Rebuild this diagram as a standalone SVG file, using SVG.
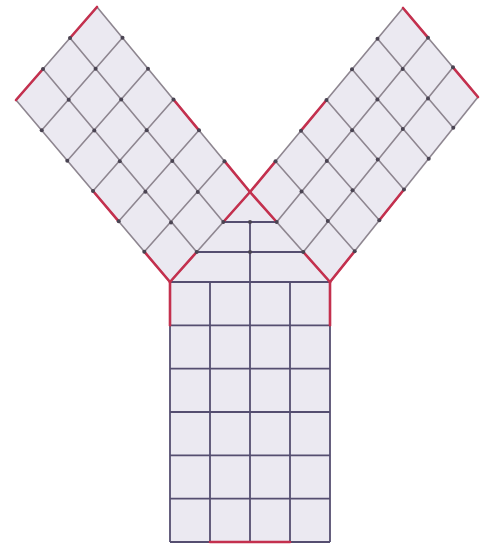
<svg xmlns="http://www.w3.org/2000/svg" width="480" height="546" viewBox="0 0 480 546">
<style>
.fill{fill:#ebe9f1;stroke:none}
.arm{stroke:#8e8690;stroke-width:1.6;fill:none;stroke-linecap:round}
.stem{stroke:#554e70;stroke-width:1.8;fill:none}
.red{stroke:#c4304e;stroke-width:2.6;fill:none;stroke-linecap:round}
.dot{fill:#4a4452}
</style>
<rect width="480" height="546" fill="#ffffff"/>
<g id="surfaces">
<polygon class="fill" points="97,7 250,192 170,282 16,100"/>
<polygon class="fill" points="403,8 478,97 330,282 250,192"/>
<polygon class="fill" points="250,192 330,282 170,282"/>
<rect class="fill" x="170" y="282" width="160" height="260"/>
</g>
<g id="junction">
<g class="stem">
<line x1="223.3" y1="222" x2="276.7" y2="222"/>
<line x1="196.7" y1="252" x2="303.3" y2="252"/>
<line x1="250" y1="222" x2="250" y2="282"/>
</g>
<g class="dot"><circle cx="250" cy="222" r="2"/><circle cx="250" cy="252" r="2"/></g>
</g>
<g id="stem">
<g class="stem">
<line x1="170" y1="282" x2="330" y2="282"/>
<line x1="170" y1="325.3" x2="330" y2="325.3"/>
<line x1="170" y1="368.7" x2="330" y2="368.7"/>
<line x1="170" y1="412" x2="330" y2="412"/>
<line x1="170" y1="455.3" x2="330" y2="455.3"/>
<line x1="170" y1="498.7" x2="330" y2="498.7"/>
<line x1="170" y1="542" x2="330" y2="542"/>
<line x1="170" y1="282" x2="170" y2="542"/>
<line x1="210" y1="282" x2="210" y2="542"/>
<line x1="250" y1="282" x2="250" y2="542"/>
<line x1="290" y1="282" x2="290" y2="542"/>
<line x1="330" y1="282" x2="330" y2="542"/>
</g>
<g class="red">
<line x1="170" y1="282" x2="170" y2="325.3"/>
<line x1="330" y1="282" x2="330" y2="325.3"/>
<line x1="210" y1="542" x2="290" y2="542"/>
</g>
</g>
<g id="left-arm">
<g class="arm">
<line x1="97" y1="7" x2="250" y2="192"/>
<line x1="70" y1="38" x2="223.3" y2="222"/>
<line x1="43" y1="69" x2="196.7" y2="252"/>
<line x1="16" y1="100" x2="170" y2="282"/>
<line x1="97" y1="7" x2="16" y2="100"/>
<line x1="122.5" y1="37.8" x2="41.7" y2="130.3"/>
<line x1="148" y1="68.7" x2="67.3" y2="160.7"/>
<line x1="173.5" y1="99.5" x2="93" y2="191"/>
<line x1="199" y1="130.3" x2="118.7" y2="221.3"/>
<line x1="224.5" y1="161.2" x2="144.3" y2="251.7"/>
<line x1="250" y1="192" x2="170" y2="282"/>
</g>
<g class="red">
<line x1="97" y1="7" x2="70" y2="38"/>
<line x1="43" y1="69" x2="16" y2="100"/>
<line x1="173.5" y1="99.5" x2="199" y2="130.3"/>
<line x1="224.5" y1="161.2" x2="250" y2="192"/>
<line x1="93" y1="191" x2="118.7" y2="221.3"/>
<line x1="144.3" y1="251.7" x2="170" y2="282"/>
<line x1="250" y1="192" x2="223.3" y2="222"/>
<line x1="196.7" y1="252" x2="170" y2="282"/>
</g>
<g class="dot">
<circle cx="70" cy="38" r="2"/><circle cx="43" cy="69" r="2"/>
<circle cx="122.5" cy="37.8" r="2"/><circle cx="148" cy="68.7" r="2"/><circle cx="173.5" cy="99.5" r="2"/><circle cx="199" cy="130.3" r="2"/><circle cx="224.5" cy="161.2" r="2"/>
<circle cx="41.7" cy="130.3" r="2"/><circle cx="67.3" cy="160.7" r="2"/><circle cx="93" cy="191" r="2"/><circle cx="118.7" cy="221.3" r="2"/><circle cx="144.3" cy="251.7" r="2"/>
<circle cx="95.6" cy="68.8" r="2"/><circle cx="121.2" cy="99.6" r="2"/><circle cx="146.7" cy="130.3" r="2"/><circle cx="172.3" cy="161.1" r="2"/><circle cx="197.8" cy="191.9" r="2"/>
<circle cx="68.7" cy="99.8" r="2"/><circle cx="94.3" cy="130.5" r="2"/><circle cx="119.8" cy="161.2" r="2"/><circle cx="145.4" cy="191.8" r="2"/><circle cx="171" cy="222.5" r="2"/>
<circle cx="223.3" cy="222" r="2"/><circle cx="196.7" cy="252" r="2"/>
</g>
</g>
<g id="right-arm">
<g class="arm">
<line x1="403" y1="8" x2="250" y2="192"/>
<line x1="428" y1="37.7" x2="276.7" y2="222"/>
<line x1="453" y1="67.3" x2="303.3" y2="252"/>
<line x1="478" y1="97" x2="330" y2="282"/>
<line x1="403" y1="8" x2="478" y2="97"/>
<line x1="377.5" y1="38.7" x2="453.3" y2="127.8"/>
<line x1="352" y1="69.3" x2="428.7" y2="158.7"/>
<line x1="326.5" y1="100" x2="404" y2="189.5"/>
<line x1="301" y1="130.7" x2="379.3" y2="220.3"/>
<line x1="275.5" y1="161.3" x2="354.7" y2="251.2"/>
<line x1="250" y1="192" x2="330" y2="282"/>
</g>
<g class="red">
<line x1="403" y1="8" x2="428" y2="37.7"/>
<line x1="453" y1="67.3" x2="478" y2="97"/>
<line x1="326.5" y1="100" x2="301" y2="130.7"/>
<line x1="275.5" y1="161.3" x2="250" y2="192"/>
<line x1="404" y1="189.5" x2="379.3" y2="220.3"/>
<line x1="354.7" y1="251.2" x2="330" y2="282"/>
<line x1="250" y1="192" x2="276.7" y2="222"/>
<line x1="303.3" y1="252" x2="330" y2="282"/>
</g>
<g class="dot">
<circle cx="428" cy="37.7" r="2"/><circle cx="453" cy="67.3" r="2"/>
<circle cx="377.5" cy="38.7" r="2"/><circle cx="352" cy="69.3" r="2"/><circle cx="326.5" cy="100" r="2"/><circle cx="301" cy="130.7" r="2"/><circle cx="275.5" cy="161.3" r="2"/>
<circle cx="453.3" cy="127.8" r="2"/><circle cx="428.7" cy="158.7" r="2"/><circle cx="404" cy="189.5" r="2"/><circle cx="379.3" cy="220.3" r="2"/><circle cx="354.7" cy="251.2" r="2"/>
<circle cx="402.7" cy="69.1" r="2"/><circle cx="377.4" cy="99.6" r="2"/><circle cx="352.1" cy="130.3" r="2"/><circle cx="326.8" cy="160.9" r="2"/><circle cx="301.5" cy="191.6" r="2"/>
<circle cx="428" cy="98.4" r="2"/><circle cx="402.8" cy="128.9" r="2"/><circle cx="377.7" cy="159.6" r="2"/><circle cx="352.5" cy="190.3" r="2"/><circle cx="327.8" cy="221" r="2"/>
<circle cx="276.7" cy="222" r="2"/><circle cx="303.3" cy="252" r="2"/>
</g>
</g>
</svg>
